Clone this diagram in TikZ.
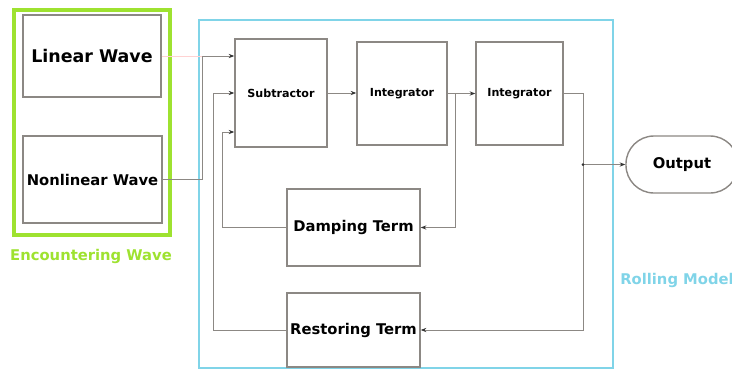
\documentclass[tikz,border=0pt]{standalone}
\usepackage{fontspec}
\setmainfont{DejaVu Sans}
\usetikzlibrary{
  arrows.meta,
}
\definecolor{wavegreen}{RGB}{158,226,48}
\definecolor{rollcyan}{RGB}{128,212,232}
\definecolor{boxgray}{RGB}{140,136,132}

\begin{document}
\begin{tikzpicture}[
  x=0.025cm, y=-0.025cm,
  block/.style={draw=boxgray, line width=1pt, fill=white, inner sep=1pt, font=\bfseries},
  big/.style={font=\bfseries\fontsize{12.4}{14}\selectfont},
  mid/.style={font=\bfseries\fontsize{10.5}{12}\selectfont},
  small/.style={font=\bfseries\fontsize{7.9}{9}\selectfont},
  wire/.style={draw=boxgray, line width=0.7pt, -{Stealth[length=4pt,width=3pt,black!80]}},
  line/.style={draw=boxgray, line width=0.7pt},
]
\clip (0,0) rectangle (732,371);

% frames
\draw[wavegreen, line width=2.9pt] (14,10) rectangle (170,235);
\draw[rollcyan, line width=2.1pt] (199,20) rectangle (613,368);
\node[text=wavegreen, mid] (encLabel) at (91,256) {Encountering Wave};
\node[text=rollcyan, mid, anchor=west, inner sep=0pt] (rollLabel) at (620,280) {Rolling Model};

% wave sources
\node[block, big, minimum width=3.45cm, minimum height=2.05cm] (lin) at (92,56) {Linear Wave};
\node[block, mid, minimum width=3.475cm, minimum height=2.175cm] (nonlin) at (92.5,179.5) {Nonlinear Wave};

% rolling model blocks
\node[block, small, minimum width=2.3cm, minimum height=2.7cm] (sub) at (281,93) {Subtractor};
\node[block, small, minimum width=2.25cm, minimum height=2.575cm] (int1) at (402,93.5) {Integrator};
\node[block, small, minimum width=2.175cm, minimum height=2.575cm] (int2) at (519.5,93.5) {Integrator};
\node[block, mid, minimum width=3.325cm, minimum height=1.925cm] (damp) at (353.5,227.5) {Damping Term};
\node[block, mid, minimum width=3.325cm, minimum height=1.85cm] (rest) at (353.5,330) {Restoring Term};
\node[block, mid, minimum width=2.8cm, minimum height=1.425cm, rounded corners=0.7cm] (out) at (682,164.5) {Output};

% junctions
\coordinate (merge) at (202,56);
\coordinate (fbRest) at (213,93);
\coordinate (fbDamp) at (222,132);
\coordinate (tapDamp) at (455,93.5);
\coordinate (tapOut) at (583,164.5);

% connectors
\draw[pink!70, line width=0.5pt] (lin.east) -- (merge);
\draw[wire] (merge) -- (sub.west |- merge);
\draw[line] (nonlin.east) -| (merge);
\draw[wire] (rest.west) -| (fbRest) -- (sub.west);
\draw[wire] (damp.west) -| (fbDamp) -- (sub.west |- fbDamp);
\draw[wire] (sub.east) -- (int1.west |- sub.east);
\draw[wire] (int1.east) -- (int2.west);
\draw[wire] (tapDamp) |- (damp.east);
\draw[line] (int2.east) -| (tapOut);
\draw[wire] (tapOut) |- (rest.east);
\draw[wire] (tapOut) -- (out.west);
\fill[black!80] (tapOut) circle (1.5);
\end{tikzpicture}
\end{document}
